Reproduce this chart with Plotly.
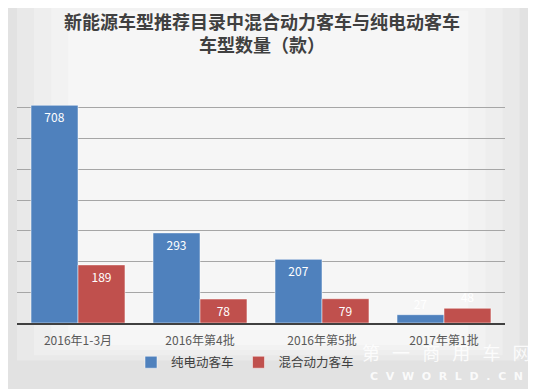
import plotly.graph_objects as go

categories = ["2016年1-3月", "2016年第4批", "2016年第5批", "2017年第1批"]
ev_values = [708, 293, 207, 27]
hybrid_values = [189, 78, 79, 48]
series_names = ["纯电动客车", "混合动力客车"]

FONT = "Noto Sans CJK SC"

# page body has an 8px default margin, so the figure frame starts at (8, 8)
W, H = 528, 381
L, R, T, B = 9, 31, 69, 66
PW, PH = W - L - R, H - T - B


def px(x):
    return (x - 8 - L) / PW


def py(y):
    return (H - B - (y - 8)) / PH


def label_pos(values):
    return ["inside" if v > 60 else "outside" for v in values]


fig = go.Figure()
fig.add_trace(go.Bar(
    x=categories, y=ev_values, name=series_names[0],
    marker=dict(color="#4F81BD", line=dict(color="#ffffff", width=0.5)),
    text=ev_values, textposition=label_pos(ev_values),
    insidetextanchor="end", constraintext="none", cliponaxis=False,
    textfont=dict(color="white", size=12, family=FONT),
))
fig.add_trace(go.Bar(
    x=categories, y=hybrid_values, name=series_names[1],
    marker=dict(color="#C0504D", line=dict(color="#ffffff", width=0.5)),
    text=hybrid_values, textposition=label_pos(hybrid_values),
    insidetextanchor="end", constraintext="none", cliponaxis=False,
    textfont=dict(color="white", size=12, family=FONT),
))

fig.update_layout(
    width=W, height=H,
    margin=dict(l=L, r=R, t=T, b=B, autoexpand=False),
    paper_bgcolor="#e2e2e2",
    plot_bgcolor="rgba(0,0,0,0)",
    barmode="group", bargap=0.23, bargroupgap=0,
    font=dict(family=FONT, color="#595959", size=12),
    showlegend=True,
    legend=dict(
        orientation="h", x=px(245), xanchor="center", y=-0.1, yanchor="top",
        font=dict(family=FONT, size=12.5, color="#404040"),
        itemwidth=30,
        bgcolor="rgba(0,0,0,0)",
    ),
    xaxis=dict(
        showline=True, linecolor="#404040", linewidth=2,
        tickfont=dict(family=FONT, size=12, color="#595959"),
        ticks="outside", ticklen=6, tickcolor="rgba(0,0,0,0)", fixedrange=True,
    ),
    yaxis=dict(
        range=[0, 800], dtick=100, showticklabels=False,
        showgrid=True, gridcolor="#a6a6a6", gridwidth=1,
        zeroline=False, fixedrange=True,
    ),
)

fig.add_annotation(
    xref="paper", yref="paper", x=px(262), y=py(33),
    xanchor="center", yanchor="middle", showarrow=False,
    text="<b>新能源车型推荐目录中混合动力客车与纯电动客车<br>车型数量（款）</b>",
    font=dict(family=FONT, size=18, color="#404040"),
)

# soft lighter centre to mimic gradient background
for i, op in enumerate([0.25, 0.25, 0.25, 0.3]):
    m = 0.06 + i * 0.07
    fig.add_shape(type="rect", xref="paper", yref="paper",
                  x0=-0.03 + m * 0.5, x1=1.06 - m * 0.5,
                  y0=-0.17 + m * 0.3, y1=1.35 - m * 0.3,
                  fillcolor="white", opacity=op, line=dict(width=0), layer="below")

fig.add_annotation(xref="paper", yref="paper", x=px(446), y=py(352),
                   xanchor="center", yanchor="middle",
                   text="第   一   商   用   车   网", showarrow=False,
                   font=dict(family=FONT, size=18, color="rgba(255,255,255,0.85)"))
fig.add_annotation(xref="paper", yref="paper", x=px(446), y=py(376),
                   xanchor="center", yanchor="middle",
                   text="<b>C  V  W  O  R  L  D  .  C  N</b>", showarrow=False,
                   font=dict(family="DejaVu Sans", size=11, color="rgba(255,255,255,0.85)"))

fig.write_html("out.html")
